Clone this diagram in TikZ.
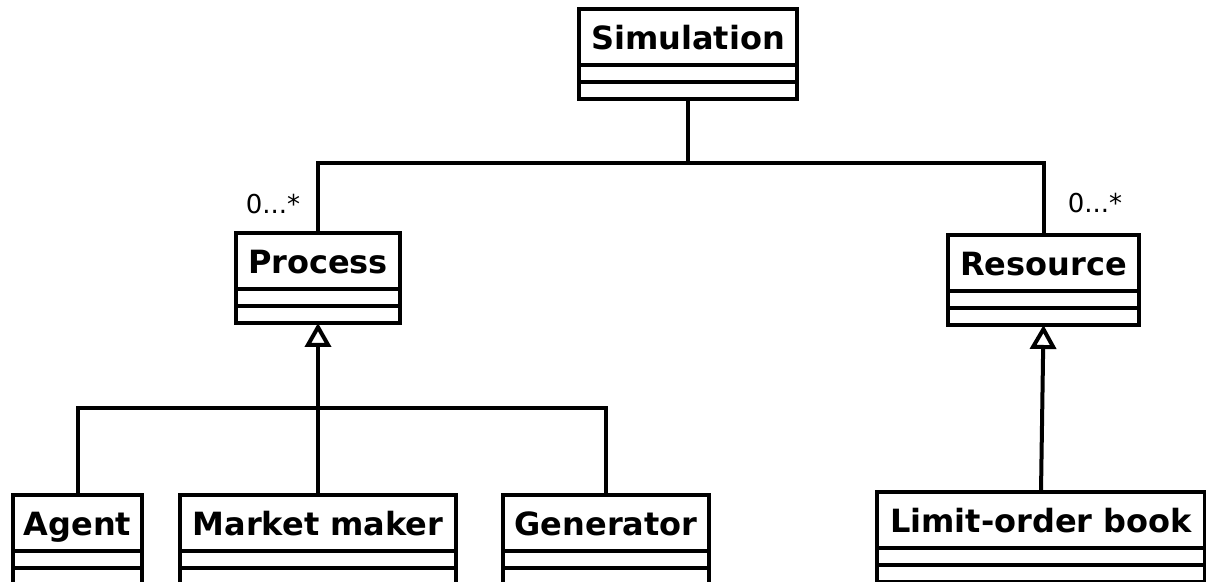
\documentclass[tikz,border=0pt]{standalone}
\usepackage{fontspec}
\setmainfont{DejaVu Sans}
\usetikzlibrary{arrows.meta,shapes.multipart}

% name compartment of a class box, fixed width
\newcommand{\classname}[2]{\makebox[#1]{\rule[-6.8pt]{0pt}{26pt}#2}}

\tikzset{
  umlclass/.style={draw, line width=2pt, rectangle split, rectangle split parts=3,
    inner xsep=0pt, inner ysep=0pt, outer sep=0pt, rectangle split empty part height=6.5pt,
    rectangle split empty part depth=0pt, anchor=north west,
    font=\fontsize{16}{19}\selectfont\bfseries},
  mult/.style={font=\fontsize{13}{15}\selectfont, inner sep=0pt},
  assoc/.style={line width=2pt},
  inherit/.style={line width=2pt, -{Triangle[open, length=12pt, width=13pt]}}
}

\begin{document}
\begin{tikzpicture}[x=0.5pt, y=-0.5pt]
\useasboundingbox (0,0) rectangle (1206,582);
\clip (0,0) rectangle (1206,582);

\node[umlclass] (sim) at (579,9) {\classname{109pt}{Simulation}};
\node[umlclass] (proc) at (236,233) {\classname{82pt}{Process}};
\node[umlclass] (res) at (948,235) {\classname{95.5pt}{Resource}};

\node[umlclass] (agent) at (13,495) {\classname{64.5pt}{Agent}};
\node[umlclass] (mm) at (180,495) {\classname{138pt}{Market maker}};
\node[umlclass] (gen) at (503,495) {\classname{103pt}{Generator}};
\node[umlclass] (lob) at (877,492) {\classname{164pt}{Limit-order book}};

% composition: simulation owns processes and resources
\coordinate (bus) at (688,163);
\draw[assoc] (sim.south) -- (bus) -| (proc.north);
\draw[assoc] (bus) -| (res.north);
\node[mult] (pmult) at (273,204) {0...*};
\node[mult] (rmult) at (1095,203) {0...*};

% subclasses
\coordinate (pbus) at (318,408);
\draw[inherit] (mm.north) -- (proc.south);
\draw[assoc] (agent.north) |- (pbus) -| (gen.north);
\draw[inherit] (lob.north) -- (res.south);
\end{tikzpicture}
\end{document}
